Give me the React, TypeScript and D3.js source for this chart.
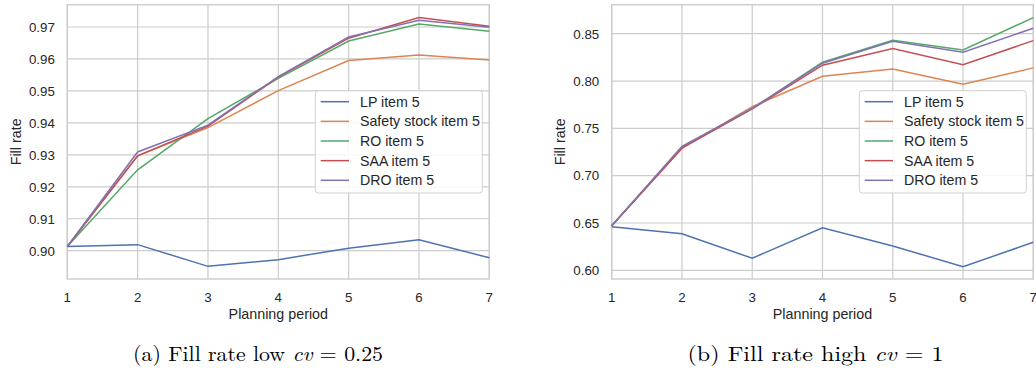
import React from "react";
import * as d3 from "d3";

const periods = [1, 2, 3, 4, 5, 6, 7];
const seriesNames = ["LP item 5", "Safety stock item 5", "RO item 5", "SAA item 5", "DRO item 5"];
const colors = ["#4C72B0", "#DD8452", "#55A868", "#C44E52", "#8172B3"];

const lowLP = [0.9013, 0.9019, 0.8951, 0.8972, 0.9008, 0.9034, 0.8978];
const lowSafety = [0.9013, 0.9297, 0.9385, 0.9501, 0.9595, 0.9612, 0.9597];
const lowRO = [0.9013, 0.9253, 0.9413, 0.9539, 0.9656, 0.9709, 0.9687];
const lowSAA = [0.9013, 0.9297, 0.939, 0.9543, 0.9665, 0.973, 0.9702];
const lowDRO = [0.9013, 0.9309, 0.9393, 0.9545, 0.9669, 0.9721, 0.9699];

const highLP = [0.6461, 0.6387, 0.6127, 0.645, 0.6257, 0.6038, 0.6296];
const highSafety = [0.6471, 0.729, 0.7729, 0.8051, 0.8128, 0.7966, 0.8139];
const highRO = [0.6471, 0.73, 0.771, 0.8199, 0.843, 0.8329, 0.867];
const highSAA = [0.6471, 0.729, 0.7705, 0.8167, 0.8343, 0.8173, 0.8427];
const highDRO = [0.6471, 0.731, 0.771, 0.8188, 0.842, 0.8304, 0.8558];

const lowTicks = [0.9, 0.91, 0.92, 0.93, 0.94, 0.95, 0.96, 0.97];
const highTicks = [0.6, 0.65, 0.7, 0.75, 0.8, 0.85];

const SANS = "'Liberation Sans', Arial, Helvetica, sans-serif";
const SERIF = "'Latin Modern Roman', 'CMU Serif', 'Liberation Serif', serif";

type PanelProps = {
  left: number;
  right: number;
  top: number;
  bottom: number;
  yDomain: [number, number];
  ticks: number[];
  series: number[][];
  legendX: number;
  legendY: number;
  ylabelX: number;
  caption: React.ReactNode;
  captionX: number;
  captionW: number;
};

function Panel(p: PanelProps) {
  const x = d3.scaleLinear().domain([1, 7]).range([p.left, p.right]);
  const y = d3.scaleLinear().domain(p.yDomain).range([p.bottom, p.top]);
  const line = d3
    .line<number>()
    .x((_, i) => x(periods[i]))
    .y((d) => y(d));
  const grid = "#cccccc";
  const textCol = "#262626";
  const cx = (p.left + p.right) / 2;
  return (
    <g>
      <rect x={p.left} y={p.top} width={p.right - p.left} height={p.bottom - p.top} fill="white" />
      {periods.map((v) => (
        <line key={"vx" + v} x1={x(v)} x2={x(v)} y1={p.top} y2={p.bottom} stroke={grid} strokeWidth={1.2} />
      ))}
      {p.ticks.map((t) => (
        <line key={"hy" + t} x1={p.left} x2={p.right} y1={y(t)} y2={y(t)} stroke={grid} strokeWidth={1.2} />
      ))}
      <rect
        x={p.left}
        y={p.top}
        width={p.right - p.left}
        height={p.bottom - p.top}
        fill="none"
        stroke={grid}
        strokeWidth={1.4}
      />
      {p.series.map((s, i) => (
        <path key={"s" + i} d={line(s) || ""} fill="none" stroke={colors[i]} strokeWidth={1.5} />
      ))}
      {p.ticks.map((t) => (
        <text
          key={"yl" + t}
          x={p.left - 12.5}
          y={y(t) + 4.8}
          textAnchor="end"
          fontFamily={SANS}
          fontSize={13.3}
          fill={textCol}
        >
          {t.toFixed(2)}
        </text>
      ))}
      {periods.map((v) => (
        <text
          key={"xl" + v}
          x={x(v)}
          y={301.5}
          textAnchor="middle"
          fontFamily={SANS}
          fontSize={13.3}
          fill={textCol}
        >
          {v}
        </text>
      ))}
      <text x={cx} y={319} textAnchor="middle" fontFamily={SANS} fontSize={14.3} fill={textCol}>
        Planning period
      </text>
      <text
        transform={`translate(${p.ylabelX},${(p.top + p.bottom) / 2}) rotate(-90)`}
        textAnchor="middle"
        dy={5}
        fontFamily={SANS}
        fontSize={14.3}
        fill={textCol}
      >
        Fill rate
      </text>
      <g transform={`translate(${p.legendX},${p.legendY})`}>
        <rect x={0} y={0} width={167} height={102.3} rx={3} fill="white" fillOpacity={0.85} stroke="#d0d0d0" strokeWidth={1} />
        {seriesNames.map((n, i) => (
          <g key={n} transform={`translate(0,${11 + i * 19.65})`}>
            <line x1={5.4} x2={33.7} y1={0} y2={0} stroke={colors[i]} strokeWidth={1.5} />
            <text x={44.7} y={5} fontFamily={SANS} fontSize={14.2} fill={textCol}>
              {n}
            </text>
          </g>
        ))}
      </g>
      <text
        x={p.captionX - p.captionW / 2}
        y={361}
        fontFamily={SERIF}
        fontSize={21}
        fill="#000"
        textLength={p.captionW}
        lengthAdjust="spacingAndGlyphs"
      >
        {p.caption}
      </text>
    </g>
  );
}

export default function App() {
  return (
    <svg
      width={1036}
      height={372}
      style={{ position: "absolute", left: 0, top: 0, background: "white" }}
      xmlns="http://www.w3.org/2000/svg"
    >
      <rect width={1036} height={372} fill="white" />
      <Panel
        left={67.3}
        right={489.3}
        top={4.7}
        bottom={279}
        yDomain={[0.90 - (279 - 250.7) / 3196, 0.97 + (27 - 4.7) / 3196]}
        ticks={lowTicks}
        series={[lowLP, lowSafety, lowRO, lowSAA, lowDRO]}
        legendX={315.3}
        legendY={90.7}
        ylabelX={15.7}
        captionX={258}
        captionW={250}
        caption={
          <>
            (a) Fill rate low <tspan fontStyle="italic">cv</tspan> = 0.25
          </>
        }
      />
      <Panel
        left={611.7}
        right={1033.3}
        top={4.7}
        bottom={279}
        yDomain={[0.60 - (279 - 270.3) / 946, 0.85 + (33.7 - 4.7) / 946]}
        ticks={highTicks}
        series={[highLP, highSafety, highRO, highSAA, highDRO]}
        legendX={859.3}
        legendY={90.7}
        ylabelX={560}
        captionX={815.5}
        captionW={256}
        caption={
          <>
            (b) Fill rate high <tspan fontStyle="italic">cv</tspan> = 1
          </>
        }
      />
    </svg>
  );
}
